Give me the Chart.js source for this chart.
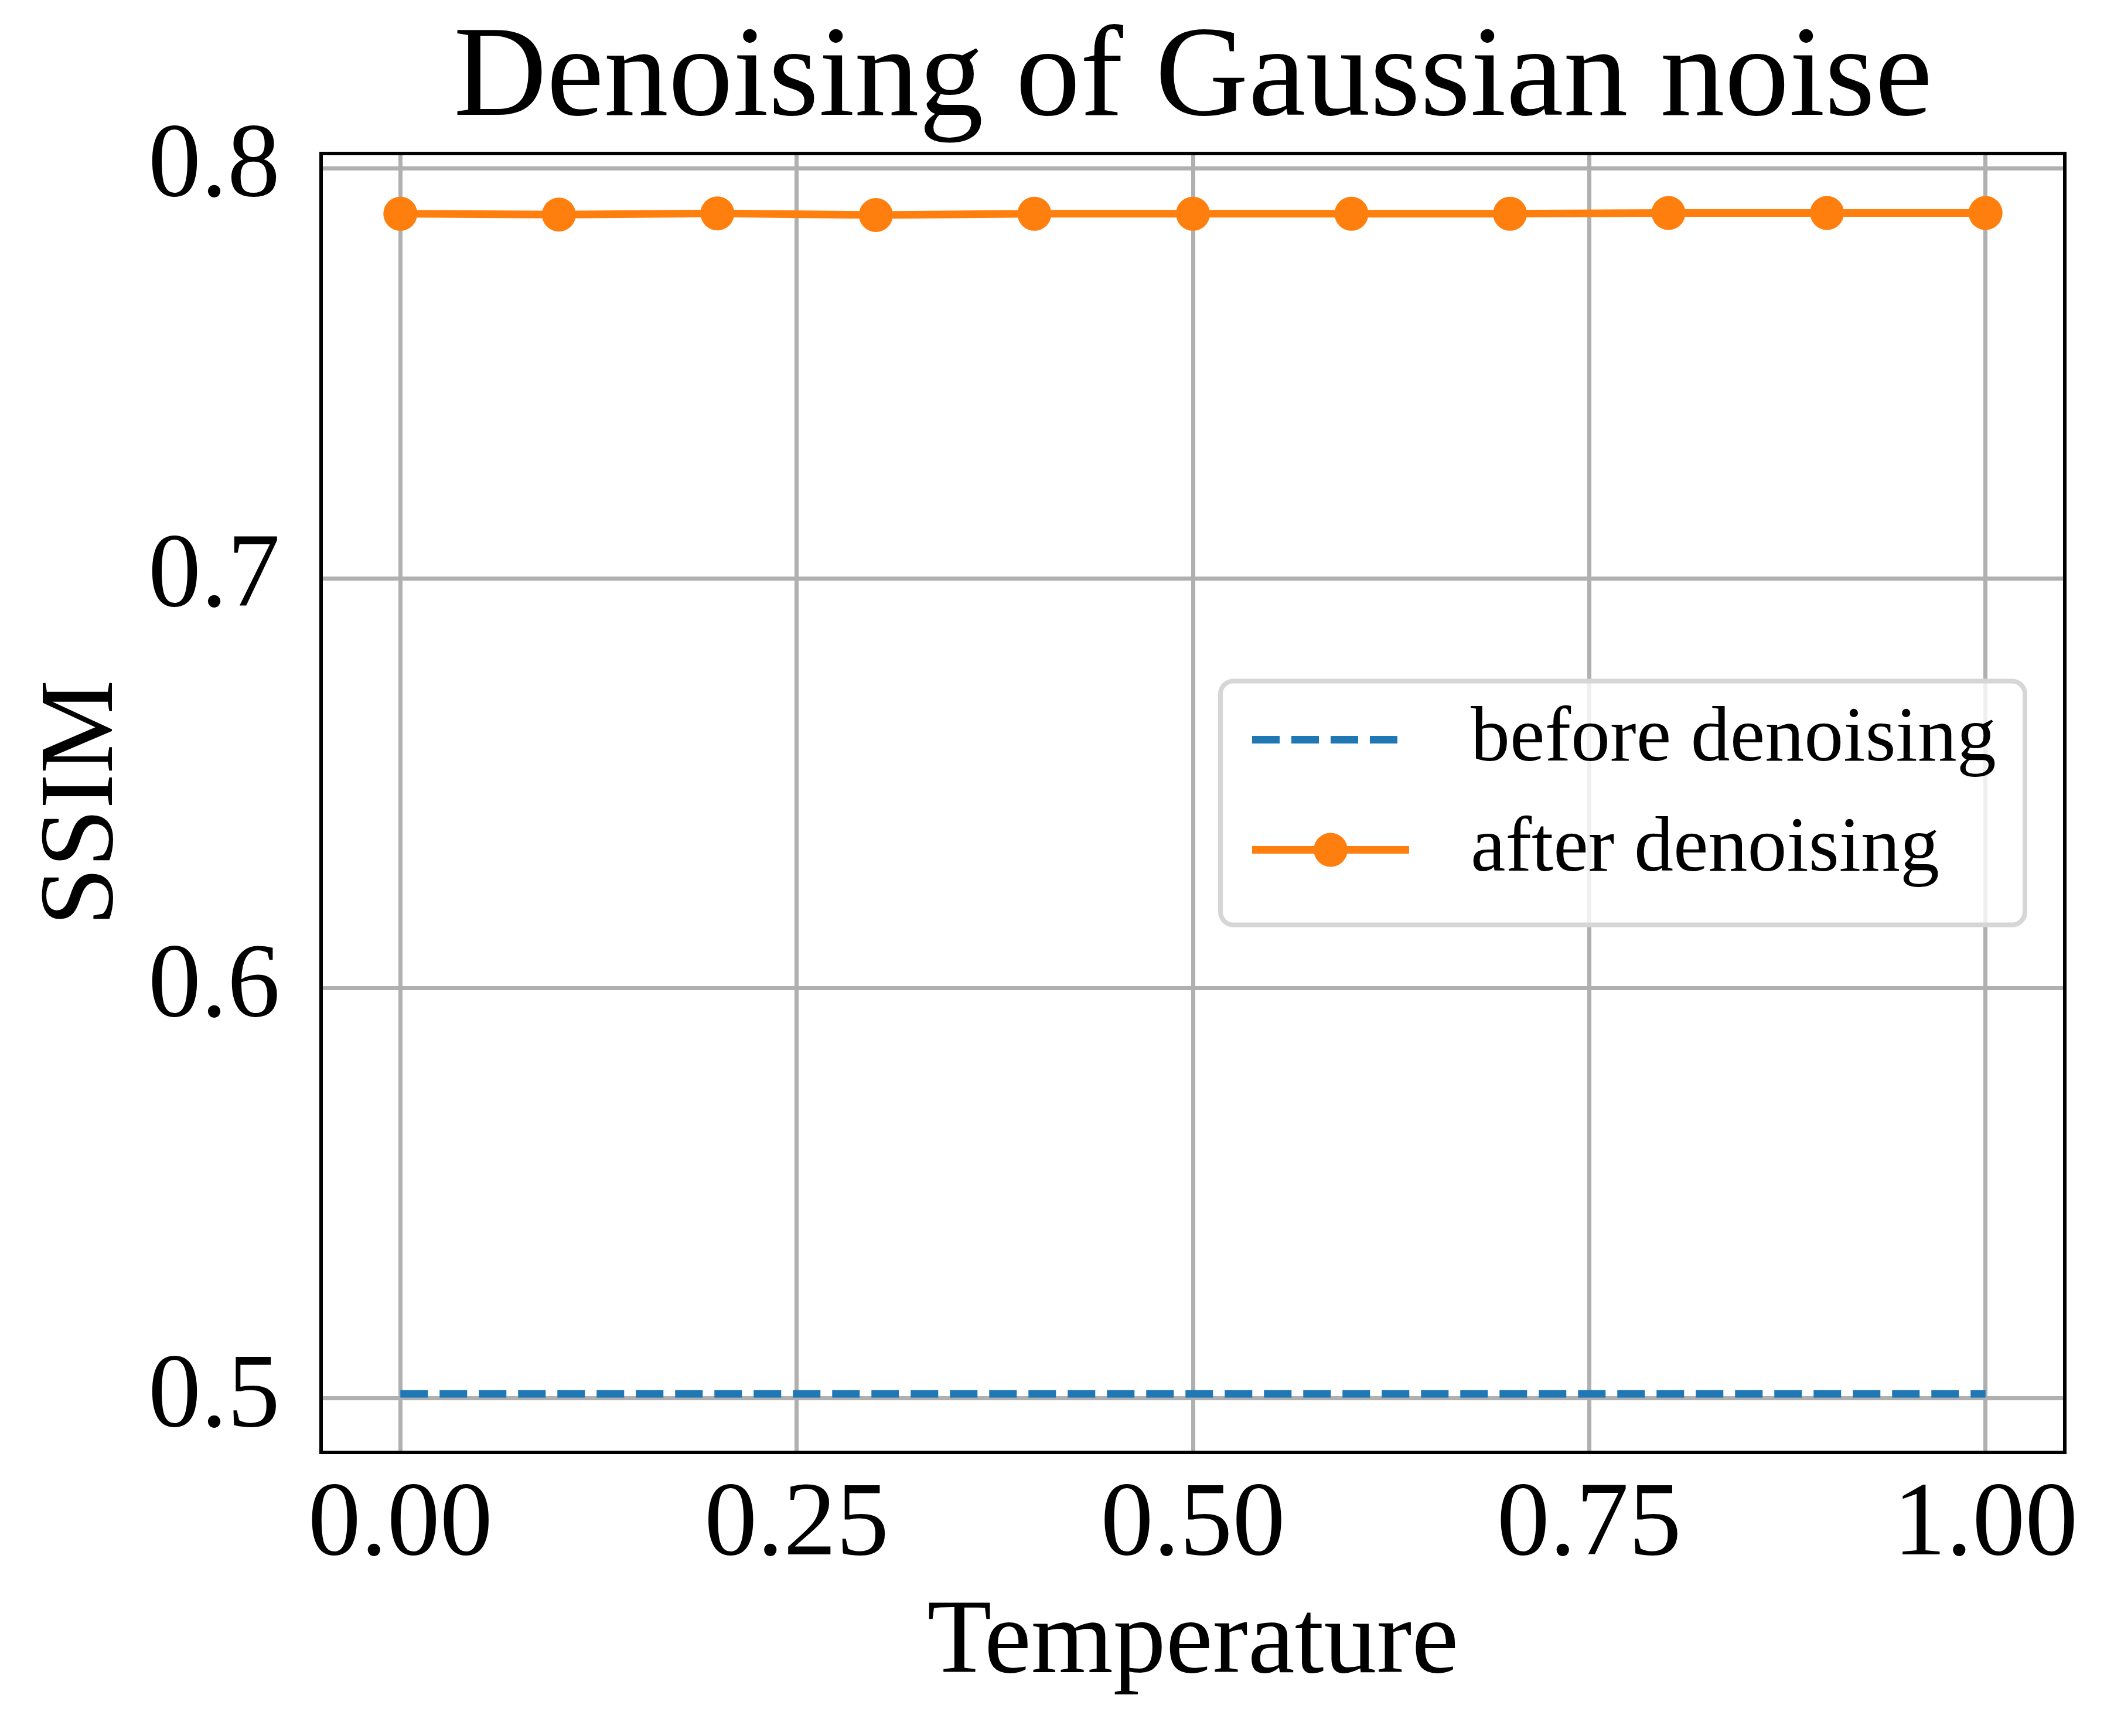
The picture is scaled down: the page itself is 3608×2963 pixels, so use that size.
<!DOCTYPE html>
<html>
<head>
<meta charset="utf-8">
<script src="https://cdn.jsdelivr.net/npm/chart.js@4/dist/chart.umd.min.js"></script>
<style>
  html, body { margin: 0; padding: 0; background: #fff; }
  #wrap { width: 3608px; height: 2963px; }
</style>
</head>
<body>
<div id="wrap"><canvas id="ssimChart" width="3608" height="2963"></canvas></div>
<script>
(function () {
  const temperatures = [0.0, 0.1, 0.2, 0.3, 0.4, 0.5, 0.6, 0.7, 0.8, 0.9, 1.0];
  const ssimBefore = [0.5011, 0.5011, 0.5011, 0.5011, 0.5011, 0.5011, 0.5011, 0.5011, 0.5011, 0.5011, 0.5011];
  const ssimAfter = [0.7889, 0.7887, 0.7890, 0.7886, 0.7889, 0.7889, 0.7889, 0.7889, 0.7891, 0.7891, 0.7891];
  const seriesLabels = ['before denoising', 'after denoising'];

  const serif = "'Liberation Serif', 'Times New Roman', serif";
  const blue = '#1f77b4';
  const orange = '#ff7f0e';

  // frame around the plot area (matplotlib spines)
  const framePlugin = {
    id: 'frame',
    afterDatasetsDraw(chart) {
      const {ctx, chartArea: a} = chart;
      ctx.save();
      ctx.strokeStyle = '#000';
      ctx.lineWidth = 6;
      ctx.strokeRect(a.left, a.top, a.right - a.left, a.bottom - a.top);
      ctx.restore();
    }
  };

  // legend box at center right, like loc='best' picked it
  const legendPlugin = {
    id: 'mplLegend',
    afterDraw(chart) {
      const {ctx, chartArea: a} = chart;
      const w = 1373, h = 416;
      const x = a.right - 68 - w;
      const y = (a.top + a.bottom) / 2 - h / 2;
      ctx.save();
      ctx.beginPath();
      ctx.roundRect(x, y, w, h, 22);
      ctx.fillStyle = 'rgba(255,255,255,0.8)';
      ctx.fill();
      ctx.lineWidth = 8;
      ctx.strokeStyle = '#d6d6d6';
      ctx.stroke();

      chart.data.datasets.forEach((ds, i) => {
        const cy = y + 100 + i * 188;
        ctx.beginPath();
        ctx.setLineDash(ds.borderDash || []);
        ctx.lineWidth = ds.borderWidth;
        ctx.strokeStyle = ds.borderColor;
        ctx.lineCap = 'butt';
        ctx.moveTo(x + 54, cy);
        ctx.lineTo(x + 322, cy);
        ctx.stroke();
        ctx.setLineDash([]);
        if (ds.pointRadius > 0) {
          ctx.beginPath();
          ctx.arc(x + 188, cy, ds.pointRadius, 0, Math.PI * 2);
          ctx.fillStyle = ds.pointBackgroundColor;
          ctx.fill();
        }
        ctx.fillStyle = '#000';
        ctx.font = '134px ' + serif;
        ctx.textBaseline = 'middle';
        ctx.textAlign = 'left';
        ctx.fillText(ds.label, x + 427, cy);
      });
      ctx.restore();
    }
  };

  const ctx = document.getElementById('ssimChart').getContext('2d');
  new Chart(ctx, {
    type: 'line',
    data: {
      datasets: [
        {
          label: seriesLabels[0],
          data: temperatures.map((t, i) => ({x: t, y: ssimBefore[i]})),
          borderColor: blue,
          backgroundColor: blue,
          borderWidth: 13,
          borderDash: [47, 20],
          pointRadius: 0,
          pointHoverRadius: 0,
          fill: false,
          tension: 0
        },
        {
          label: seriesLabels[1],
          data: temperatures.map((t, i) => ({x: t, y: ssimAfter[i]})),
          borderColor: orange,
          backgroundColor: orange,
          borderWidth: 13,
          pointRadius: 29,
          pointBorderWidth: 0,
          pointBackgroundColor: orange,
          pointHoverRadius: 29,
          fill: false,
          tension: 0
        }
      ]
    },
    options: {
      responsive: false,
      maintainAspectRatio: false,
      devicePixelRatio: 1,
      animation: false,
      layout: { padding: { top: 0, left: 0, right: 84, bottom: 0 } },
      plugins: {
        legend: { display: false },
        tooltip: { enabled: false },
        title: {
          display: true,
          text: 'Denoising of Gaussian noise',
          color: '#000',
          fullSize: false,
          font: { family: serif, size: 220, weight: 'normal', lineHeight: 1 },
          padding: { top: 28, bottom: 14 }
        }
      },
      scales: {
        x: {
          type: 'linear',
          min: -0.05,
          max: 1.05,
          grid: { color: '#b0b0b0', lineWidth: 7, drawTicks: false, tickLength: 0 },
          border: { display: false },
          ticks: {
            stepSize: 0.25,
            includeBounds: false,
            color: '#000',
            padding: 19,
            maxRotation: 0,
            font: { family: serif, size: 180, lineHeight: 1.2 },
            callback: (v) => v.toFixed(2)
          },
          title: {
            display: true,
            text: 'Temperature',
            color: '#000',
            font: { family: serif, size: 180, lineHeight: 1.2 },
            padding: { top: 0, bottom: 48 }
          },
          afterFit: (scale) => { scale.height = 484; }
        },
        y: {
          type: 'linear',
          min: 0.4868,
          max: 0.8036,
          grid: { color: '#b0b0b0', lineWidth: 7, drawTicks: false, tickLength: 0 },
          border: { display: false },
          ticks: {
            stepSize: 0.1,
            includeBounds: false,
            color: '#000',
            padding: 70,
            font: { family: serif, size: 180, lineHeight: 1.2 },
            callback: (v) => v.toFixed(1)
          },
          title: {
            display: true,
            text: 'SSIM',
            color: '#000',
            font: { family: serif, size: 180, lineHeight: 1.2 },
            padding: { top: 36, bottom: 0 }
          },
          afterFit: (scale) => { scale.width = 548; }
        }
      }
    },
    plugins: [framePlugin, legendPlugin]
  });
})();
</script>
</body>
</html>
